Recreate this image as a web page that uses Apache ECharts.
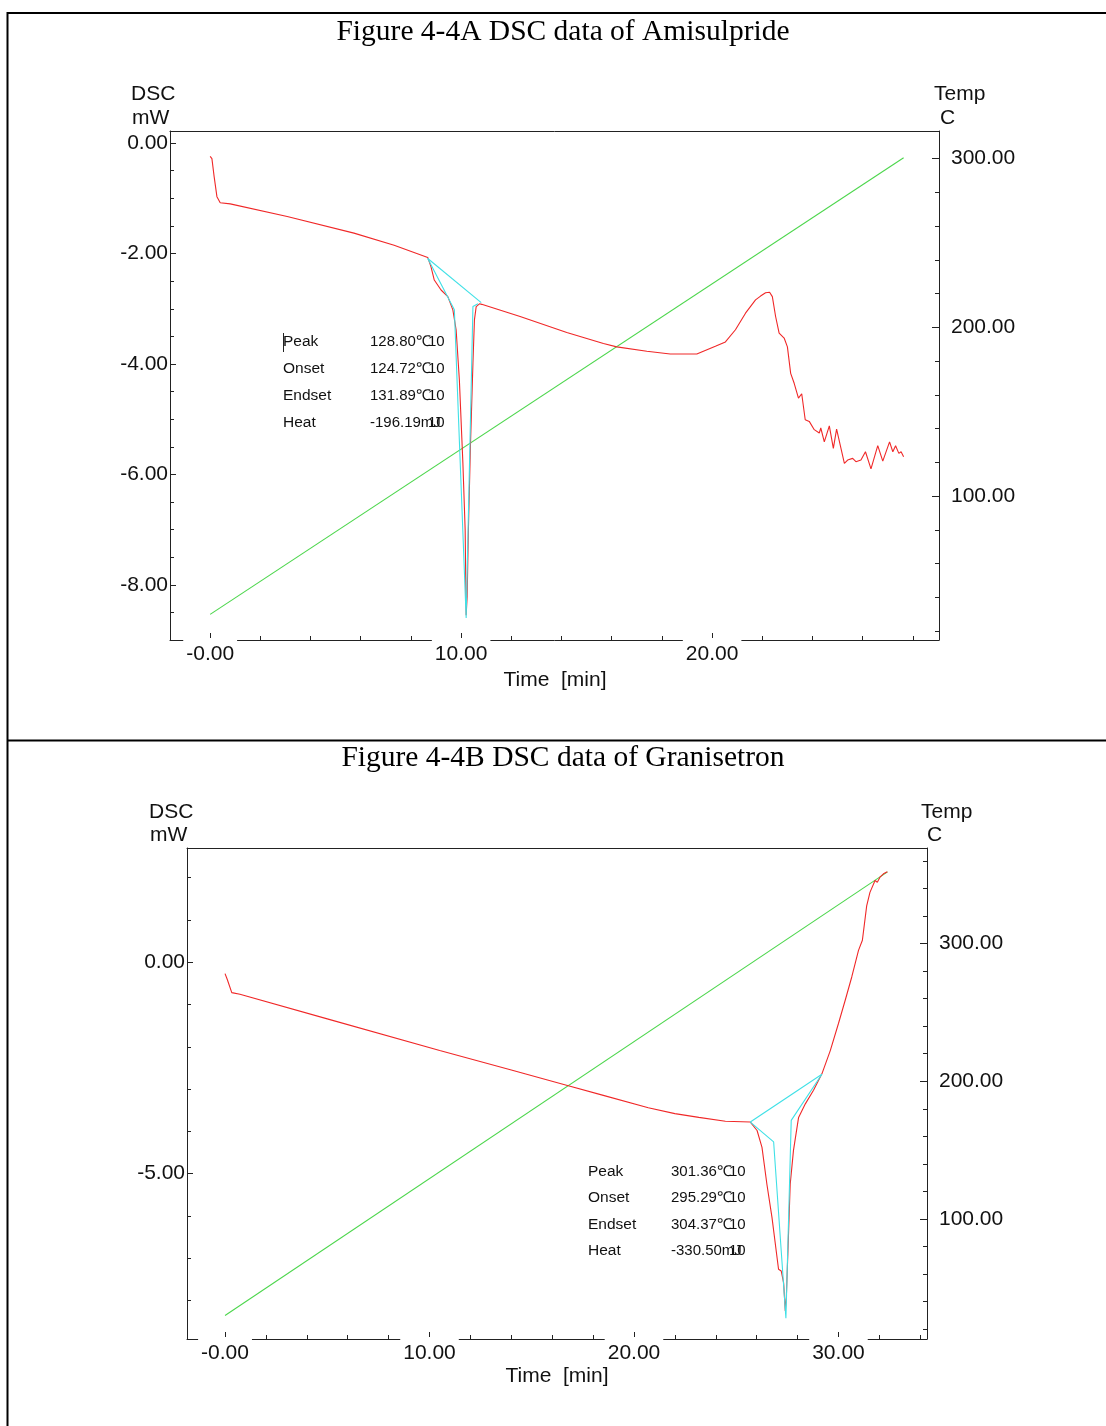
<!DOCTYPE html>
<html><head><meta charset="utf-8">
<script src="https://cdn.jsdelivr.net/npm/echarts@6/dist/echarts.min.js"></script>
<style>html,body{margin:0;padding:0;background:#fff}#c{width:1106px;height:1426px}</style>
</head><body><div id="c"></div>
<script>
// ---------- Figure 4-4A : Amisulpride ----------
const amiTime = [0.0,0.07,0.16,0.27,0.4,0.8,3.07,5.73,7.33,8.67,8.8,8.93,9.2,9.47,9.67,9.8,9.93,10.07,10.16,10.2,10.24,10.29,10.37,10.47,10.53,10.6,10.73,10.82,12.35,14.21,15.67,16.2,17.4,18.33,19.39,20.13,20.53,20.93,21.33,21.73,21.93,22.0,22.13,22.29,22.4,22.53,22.67,22.87,23.0,23.13,23.27,23.44,23.57,23.71,23.87,24.07,24.27,24.33,24.47,24.67,24.83,24.96,25.27,25.4,25.6,25.73,25.93,26.11,26.33,26.6,26.8,27.07,27.2,27.31,27.44,27.53,27.63];
const amiDsc  = [-0.24,-0.28,-0.61,-0.97,-1.08,-1.1,-1.33,-1.63,-1.85,-2.07,-2.24,-2.48,-2.66,-2.78,-3.02,-3.38,-4.29,-5.8,-7.0,-8.55,-8.21,-7.0,-5.5,-3.99,-3.2,-2.96,-2.91,-2.92,-3.14,-3.43,-3.63,-3.69,-3.77,-3.82,-3.82,-3.68,-3.6,-3.38,-3.08,-2.84,-2.77,-2.78,-2.71,-2.7,-2.78,-3.14,-3.44,-3.53,-3.69,-4.17,-4.35,-4.62,-4.54,-5.01,-5.04,-5.19,-5.25,-5.16,-5.41,-5.12,-5.53,-5.18,-5.8,-5.74,-5.71,-5.77,-5.74,-5.59,-5.9,-5.48,-5.76,-5.41,-5.59,-5.48,-5.62,-5.59,-5.68];
const amiTempTime = [0, 27.63];
const amiTemp = [30, 300.5];
const amiBaseTime = [8.67, 10.8];
const amiBaseDsc = [-2.09, -2.89];
const amiTanTime = [8.67, 9.73, 10.2, 10.47, 10.67];
const amiTanDsc = [-2.09, -3.02, -8.6, -2.96, -2.91];
const amiAnnValues = ['128.80', '124.72', '131.89', '-196.19'];

// ---------- Figure 4-4B : Granisetron ----------
const granTime = [0,0.11,0.33,0.73,5.0,10.5,14.0,16.7,18.5,20.7,22.0,23.17,24.47,25.69,26.02,26.26,26.5,26.75,26.99,27.07,27.2,27.32,27.4,27.45,27.53,27.64,27.8,28.05,28.38,28.78,29.19,29.6,30.0,30.33,30.65,30.98,31.17,31.38,31.54,31.79,31.9,32.03,32.2,32.39];
const granDsc  = [-0.27,-0.41,-0.72,-0.76,-1.34,-2.09,-2.55,-2.91,-3.15,-3.44,-3.58,-3.67,-3.76,-3.78,-3.98,-4.38,-5.25,-6.04,-6.96,-7.26,-7.3,-7.59,-8.25,-7.93,-6.82,-5.25,-4.45,-3.67,-3.35,-3.03,-2.64,-2.09,-1.45,-0.9,-0.35,0.28,0.52,1.33,1.65,1.93,1.89,2.01,2.09,2.14];
const granTempTime = [0, 32.4];
const granTemp = [30, 352];
const granBaseTime = [25.69, 29.19];
const granBaseDsc = [-3.78, -2.65];
const granTanTime = [25.69, 26.83, 27.43, 27.69, 29.19];
const granTanDsc = [-3.78, -4.25, -8.42, -3.74, -2.65];
const granAnnValues = ['301.36', '295.29', '304.37', '-330.50'];

// ---------- ticks / labels ----------
const annLabels = ['Peak', 'Onset', 'Endset', 'Heat'];
const annUnits = ['\u2103', '\u2103', '\u2103', 'mJ'];
const xMajorA = [0, 10, 20];
const xMinorA = [2, 4, 6, 8, 12, 14, 16, 18, 22, 24, 26, 28];
const dscMajorA = [0, -2, -4, -6, -8];
const dscMinorA = [0, -0.5, -1, -1.5, -2, -2.5, -3, -3.5, -4, -4.5, -5, -5.5, -6, -6.5, -7, -7.5, -8, -8.5, -9];
const tempMajorA = [100, 200, 300];
const tempMinorA = [20, 40, 60, 80, 120, 140, 160, 180, 220, 240, 260, 280];
const xMajorB = [0, 10, 20, 30];
const xMinorB = [2, 4, 6, 8, 12, 14, 16, 18, 22, 24, 26, 28, 32, 34];
const dscMajorB = [0, -5];
const dscMinorB = [2, 1, -1, -2, -3, -4, -6, -7, -8];
const tempMajorB = [100, 200, 300];
const tempMinorB = [20, 40, 60, 80, 120, 140, 160, 180, 220, 240, 260, 280, 320, 340, 360];

const pair = (ts, vs) => ts.map((t, i) => [t, vs[i]]);

const FONT = 'Liberation Sans, Arial, sans-serif';
const SERIF = 'Liberation Serif, Times New Roman, serif';
const AX = '#222';
const RED = '#f02828', GREEN = '#4cd64c', CYAN = '#3fe0e6';

function xAxes(gi, min, max, major, minor) {
  return [
    { gridIndex: gi, type: 'value', min, max, position: 'bottom',
      axisLine: { show: true, onZero: false, lineStyle: { color: AX, width: 1 } },
      axisTick: { show: true, inside: true, length: 7, customValues: major, lineStyle: { color: AX } },
      axisLabel: { show: true, customValues: major, formatter: v => (v === 0 ? '-0.00' : v.toFixed(2)),
        color: '#111', fontFamily: FONT, fontSize: 21, margin: -2, padding: [6, 3, 0, 3], lineHeight: 21, backgroundColor: '#fff' },
      splitLine: { show: false } },
    { gridIndex: gi, type: 'value', min, max, position: 'bottom',
      axisLine: { show: false, onZero: false },
      axisTick: { show: true, inside: true, length: 4, customValues: minor, lineStyle: { color: AX } },
      axisLabel: { show: false }, splitLine: { show: false } },
    { gridIndex: gi, type: 'value', min, max, position: 'top',
      axisLine: { show: true, onZero: false, lineStyle: { color: AX, width: 1 } },
      axisTick: { show: false }, axisLabel: { show: false }, splitLine: { show: false } }
  ];
}
function yAxes(gi, dmin, dmax, dMaj, dMin, tmin, tmax, tMaj, tMin) {
  return [
    { gridIndex: gi, type: 'value', min: dmin, max: dmax, position: 'left',
      axisLine: { show: true, onZero: false, lineStyle: { color: AX, width: 1 } },
      axisTick: { show: true, inside: true, length: 6, customValues: dMaj, lineStyle: { color: AX } },
      axisLabel: { show: true, customValues: dMaj, formatter: v => v.toFixed(2), color: '#111', fontFamily: FONT, fontSize: 21, margin: 2 },
      splitLine: { show: false } },
    { gridIndex: gi, type: 'value', min: dmin, max: dmax, position: 'left',
      axisLine: { show: false, onZero: false },
      axisTick: { show: true, inside: true, length: 4, customValues: dMin, lineStyle: { color: AX } },
      axisLabel: { show: false }, splitLine: { show: false } },
    { gridIndex: gi, type: 'value', min: tmin, max: tmax, position: 'right',
      axisLine: { show: true, onZero: false, lineStyle: { color: AX, width: 1 } },
      axisTick: { show: true, inside: true, length: 7, customValues: tMaj, lineStyle: { color: AX } },
      axisLabel: { show: true, customValues: tMaj, formatter: v => v.toFixed(2), color: '#111', fontFamily: FONT, fontSize: 21, margin: 12 },
      splitLine: { show: false } },
    { gridIndex: gi, type: 'value', min: tmin, max: tmax, position: 'right',
      axisLine: { show: false, onZero: false },
      axisTick: { show: true, inside: true, length: 4, customValues: tMin, lineStyle: { color: AX } },
      axisLabel: { show: false }, splitLine: { show: false } }
  ];
}
function line(xi, yi, data, color, z) {
  return { type: 'line', xAxisIndex: xi, yAxisIndex: yi, data, showSymbol: false, symbol: 'none',
    lineStyle: { color, width: 1.1 }, silent: true, z: z || 2, animation: false };
}
function txt(text, x, y, size, opts) {
  opts = opts || {};
  return { type: 'text', x, y, z: 100,
    style: { text, font: (opts.weight || 'normal') + ' ' + size + 'px ' + (opts.family || FONT),
      fill: opts.fill || '#111', align: opts.align || 'left', verticalAlign: 'middle' } };
}
function hline(x1, y1, x2, y2, w) {
  return { type: 'line', z: 100, shape: { x1, y1, x2, y2 }, style: { stroke: '#000', lineWidth: w || 2 } };
}
function annotation(lx, vx, y0, dy, values) {
  const out = [];
  annLabels.forEach((l, i) => {
    const y = y0 + i * dy;
    out.push(txt(l, lx, y, 15.5));
    out.push(txt(values[i] + annUnits[i], vx, y, 15));
    out.push(txt('10', vx + 58, y, 15));
  });
  return out;
}

const chart = echarts.init(document.getElementById('c'), null, { renderer: 'canvas' });
const graphic = [
  hline(7.5, 13, 1106, 13, 2), hline(7.5, 12, 7.5, 1426, 2), hline(7.5, 740.5, 1106, 740.5, 2),
  txt('Figure 4-4A DSC data of Amisulpride', 563, 32, 29.5, { family: SERIF, align: 'center', fill: '#000' }),
  txt('Figure 4-4B DSC data of Granisetron', 563, 758, 29.5, { family: SERIF, align: 'center', fill: '#000' }),
  txt('DSC', 131, 94, 21), txt('mW', 132, 118, 21), txt('Temp', 934, 94, 21), txt('C', 940, 118, 21),
  txt('Time  [min]', 555, 680, 21, { align: 'center' }),
  txt('DSC', 149, 812, 21), txt('mW', 150, 835, 21), txt('Temp', 921, 812, 21), txt('C', 927, 835, 21),
  txt('Time  [min]', 557, 1376, 21, { align: 'center' }),
  { type: 'line', z: 100, shape: { x1: 283.5, y1: 333, x2: 283.5, y2: 352 }, style: { stroke: '#222', lineWidth: 1 } }
].concat(annotation(283, 370, 342, 27, amiAnnValues), annotation(588, 671, 1172, 26.2, granAnnValues));

chart.setOption({
  animation: false,
  backgroundColor: '#fff',
  grid: [
    { left: 170, top: 131, width: 769, height: 509 },
    { left: 187, top: 848, width: 740, height: 491 }
  ],
  xAxis: [].concat(xAxes(0, -1.6, 29.04, xMajorA, xMinorA), xAxes(1, -1.86, 34.33, xMajorB, xMinorB)),
  yAxis: [].concat(
    yAxes(0, -9.0, 0.22, dscMajorA, dscMinorA, 14.8, 316.3, tempMajorA, tempMinorA),
    yAxes(1, -8.91, 2.7, dscMajorB, dscMinorB, 12.9, 369.3, tempMajorB, tempMinorB)),
  series: [
    line(0, 2, pair(amiTempTime, amiTemp), GREEN, 2),
    line(0, 0, pair(amiTime, amiDsc), RED, 3),
    line(0, 0, pair(amiBaseTime, amiBaseDsc), CYAN, 4),
    line(0, 0, pair(amiTanTime, amiTanDsc), CYAN, 4),
    line(3, 6, pair(granTempTime, granTemp), GREEN, 2),
    line(3, 4, pair(granTime, granDsc), RED, 3),
    line(3, 4, pair(granBaseTime, granBaseDsc), CYAN, 4),
    line(3, 4, pair(granTanTime, granTanDsc), CYAN, 4)
  ],
  graphic
});
</script></body></html>
